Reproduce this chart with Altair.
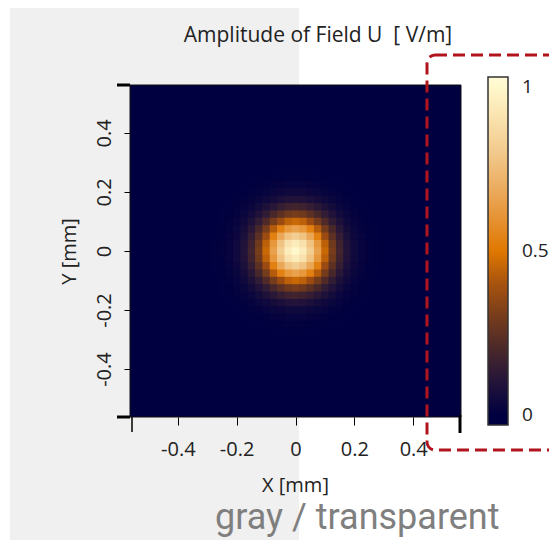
import altair as alt
import pandas as pd

# ---- data ----
# amplitude profile through the beam centre, one value per pixel (45 pixels, pitch 0.025 mm)
profile = [0, 0, 0, 0, 0, 0, 0, 0, 0, 0,
           0.001, 0.003, 0.008, 0.02, 0.045, 0.095, 0.18, 0.30, 0.46, 0.65, 0.82, 0.95,
           1.0,
           0.95, 0.82, 0.65, 0.46, 0.30, 0.18, 0.095, 0.045, 0.02, 0.008, 0.003, 0.001,
           0, 0, 0, 0, 0, 0, 0, 0, 0, 0]
pitch = 0.025
n = len(profile)
axis_ticks = [-0.4, -0.2, 0, 0.2, 0.4]
cbar_ticks = [0, 0.5, 1]
color_domain = [-0.031, 0, 0.12, 0.25, 0.38, 0.5, 0.65, 0.8, 1.0, 1.031]
color_range = ["#000040", "#000040", "#2a1838", "#5e3222", "#9c4c12", "#e07800",
               "#e9a14e", "#f2c98c", "#fff8cc", "#fffbd6"]
title_text = "Amplitude of Field U\u00a0 [ V/m]"
note_text = "gray / transparent"

# cells overlap their neighbours by a fraction of a pixel to avoid anti-aliasing seams
rows = []
for i in range(n):
    for j in range(n):
        xc = (i - (n - 1) / 2) * pitch
        yc = (j - (n - 1) / 2) * pitch
        rows.append({"x0": xc - pitch / 2, "x1": xc + pitch * 0.65,
                     "y0": yc - pitch / 2, "y1": yc + pitch * 0.65,
                     "U": profile[i] * profile[j]})
df = pd.DataFrame(rows)

W, H = 331, 332
half = n * pitch / 2
FONT = "Open Sans"
TXT = "#222222"
LBL = "datum.value == 0 ? '0' : replace(format(datum.value, '.1f'), '\u2212', '-')"

xscale = alt.Scale(domain=[-half, half], nice=False, zero=False)
yscale = alt.Scale(domain=[-half, half], nice=False, zero=False)
cscale = alt.Scale(domain=color_domain, range=color_range, interpolate="rgb")

one = pd.DataFrame({"a": [0]})

gray_bg = alt.Chart(one).mark_rect(color="#f0f0f0").encode(
    x=alt.value(-120), x2=alt.value(169), y=alt.value(-78), y2=alt.value(470))

heat = alt.Chart(df).mark_rect(clip=True).encode(
    x=alt.X("x0:Q", scale=xscale,
            axis=alt.Axis(values=axis_ticks, title="X [mm]", grid=False, domain=False,
                          zindex=1,
                          tickSize=8, tickColor="black", tickWidth=1,
                          labelFont=FONT, labelFontSize=20, labelColor=TXT,
                          labelBaseline="alphabetic", labelPadding=30,
                          labelExpr=LBL,
                          titleFont=FONT, titleFontSize=20, titleColor=TXT,
                          titleFontWeight="normal", titleBaseline="alphabetic",
                          titleY=74, titleX=165)),
    x2="x1:Q",
    y=alt.Y("y0:Q", scale=yscale,
            axis=alt.Axis(values=axis_ticks, title="Y [mm]", grid=False, domain=False,
                          zindex=1,
                          tickSize=6, tickColor="black", tickWidth=1,
                          labelFont=FONT, labelFontSize=20, labelColor=TXT,
                          labelAngle=270, labelAlign="center", labelBaseline="alphabetic",
                          labelPadding=14,
                          labelExpr=LBL,
                          titleFont=FONT, titleFontSize=20, titleColor=TXT,
                          titleFontWeight="normal", titleAngle=270,
                          titleBaseline="alphabetic", titleAlign="center",
                          titleX=-55, titleY=166)),
    y2="y1:Q",
    color=alt.Color("U:Q", scale=cscale,
                    legend=alt.Legend(orient="none", legendX=358, legendY=-8,
                                      direction="vertical", title=None, type="gradient",
                                      values=cbar_ticks, gradientLength=348,
                                      gradientThickness=20, gradientStrokeColor="#333333",
                                      gradientStrokeWidth=1.5, labelOffset=14,
                                      labelFont=FONT, labelFontSize=19, labelColor=TXT,
                                      labelExpr="'' + datum.value", padding=0)),
)

border = alt.Chart(one).mark_rect(fill=None, stroke="#111111", strokeWidth=1).encode(
    x=alt.value(0), x2=alt.value(W), y=alt.value(0), y2=alt.value(H))

corner_h = alt.Chart(pd.DataFrame({"yy": [0, H]})).mark_rule(color="black", strokeWidth=3).encode(
    x=alt.value(-13), x2=alt.value(0), y=alt.Y("yy:Q", scale=None))
corner_v1 = alt.Chart(one).mark_rule(color="black", strokeWidth=1.5).encode(
    x=alt.value(2), y=alt.value(H), y2=alt.value(H + 15))
corner_v2 = alt.Chart(one).mark_rule(color="black", strokeWidth=3).encode(
    x=alt.value(W - 1), y=alt.value(H - 2), y2=alt.value(H + 16))

title = alt.Chart(pd.DataFrame({"t": [title_text]})).mark_text(
    font=FONT, fontSize=21, color=TXT, align="center", baseline="alphabetic").encode(
    x=alt.value(188), y=alt.value(-43), text="t:N")

dashed = alt.Chart(one).mark_rect(fill=None, stroke="#b2141e", strokeWidth=3,
                                  strokeDash=[12, 6], cornerRadius=8).encode(
    x=alt.value(297), x2=alt.value(470), y=alt.value(-30), y2=alt.value(365))

note = alt.Chart(pd.DataFrame({"t": [note_text]})).mark_text(
    font="Roboto", fontSize=36, color="#7f7f7f", align="left", baseline="alphabetic").encode(
    x=alt.value(85), y=alt.value(444), text="t:N")

chart = alt.layer(gray_bg, heat, border, corner_h, corner_v1, corner_v2, title, dashed, note).properties(
    width=W, height=H,
    autosize=alt.AutoSizeParams(type="none"),
    padding={"left": 122, "top": 77, "right": 88, "bottom": 123},
    background="white",
).configure_view(stroke=None)

chart.save("out.html", embed_options={"renderer": "svg", "actions": False})
